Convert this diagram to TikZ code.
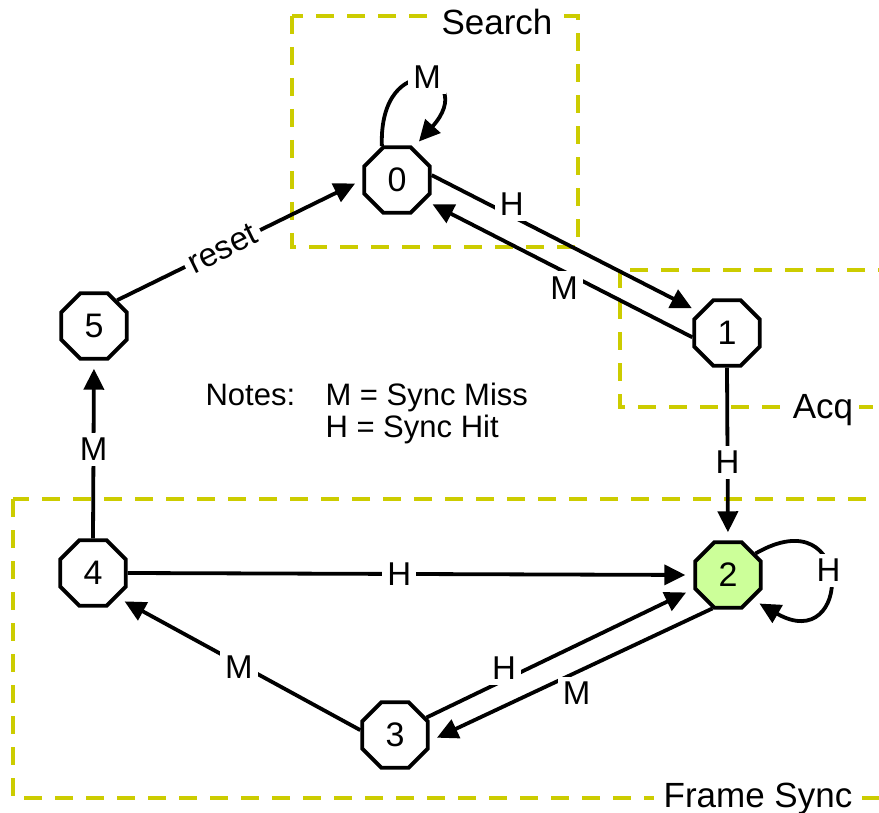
\documentclass[tikz,border=0pt]{standalone}
\usepackage{fontspec}
\setmainfont{Liberation Sans}
\usetikzlibrary{arrows.meta, shapes.geometric}
\definecolor{Olive}{RGB}{204,204,0}
\definecolor{Lime}{RGB}{204,255,153}

\begin{document}
\begin{tikzpicture}[
    x=1pt, y=1pt,
    st/.style={draw, regular polygon, regular polygon sides=8, minimum size=71pt,
               inner sep=0pt, line width=3.8pt, fill=white,
               font=\fontsize{34}{34}\selectfont},
    grp/.style={draw=Olive, line width=4.5pt, dash pattern=on 18pt off 13pt},
    grplbl/.style={fill=white, inner sep=6pt, anchor=base,
                   font=\fontsize{35}{35}\selectfont},
    arr/.style={-{Triangle[length=21pt, width=20pt]}, line width=3.8pt,
                shorten >=8pt},
    lbl/.style={fill=white, inner sep=5pt, font=\fontsize{33}{33}\selectfont},
    note/.style={anchor=base west, align=left, font=\fontsize{31}{32}\selectfont}
    ]
    \useasboundingbox (0,0) rectangle (879,-813);
    \clip (0,0) rectangle (879,-813);

    % groups
    \draw[grp] (292,-16) rectangle (578,-247);
    \draw[grp] (620,-270) rectangle (900,-407);
    \draw[grp] (13,-499) rectangle (900,-798);
    \node[grplbl] (search) at (497,-35) {Search};
    \node[grplbl] (acq)    at (823,-418) {Acq};
    \node[grplbl, inner xsep=10pt] (fsync)  at (758,-807) {Frame Sync};

    % states
    \node[st] (s0) at (397,-180) {0};
    \node[st] (s1) at (727,-333) {1};
    \node[st, fill=Lime] (s2) at (728,-575) {2};
    \node[st] (s3) at (395,-735) {3};
    \node[st] (s4) at (93,-573)  {4};
    \node[st] (s5) at (94,-326)  {5};

    % transitions
    \draw[arr] (s0.8) -- node[lbl, pos=.3, yshift=12pt] {H} (s1.143);
    \draw[arr] (s1.187) -- node[lbl, pos=.48, yshift=-16pt] {M} (s0.-36);
    \draw[arr] (s1.south) -- node[lbl, pos=.55] {H} (s2.north);
    \draw[arr] (s0.114) to[out=92, in=48, distance=100pt]
          node[lbl, pos=.56, yshift=6pt] {M} (s0.63);
    \draw[arr] (s2.38) to[out=30, in=-30, distance=115pt]
          node[lbl, pos=.46] {H} (s2.-45);
    \draw[arr] (s5.48) -- node[lbl, pos=.43, sloped] {reset} (s0.west);
    \draw[arr] (s4.north) -- node[lbl] {M} (s5.south);
    \draw[arr] (s4.east) -- node[lbl, pos=.48] {H} (s2.west);
    \draw[arr] (s3.172) -- node[lbl, yshift=-3pt] {M} (s4.-45);
    \draw[arr] (s3.29) -- node[lbl, pos=.29, yshift=12pt] {H} (s2.202);
    \draw[arr] (s2.245) -- node[lbl, pos=.48, yshift=-21pt] {M} (s3.-10);

    % notes
    \node[note] (notehd)  at (202,-405) {Notes:};
    \node[note] (notekey) at (322,-437) {M = Sync Miss\\H = Sync Hit};
\end{tikzpicture}
\end{document}
